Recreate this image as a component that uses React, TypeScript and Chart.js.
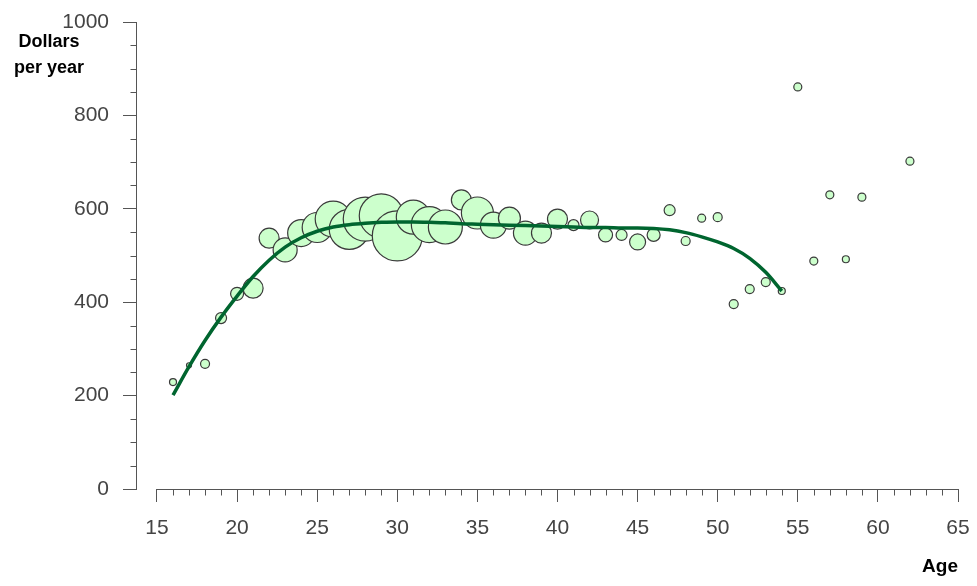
import React, { useEffect, useRef } from "react";
import { Chart, registerables } from "chart.js";

Chart.register(...registerables);

// ---- data ----
const ages = [16, 17, 18, 19, 20, 21, 22, 23, 24, 25, 26, 27, 28, 29, 30, 31, 32, 33, 34, 35, 36, 37, 38, 39, 40, 41, 42, 43, 44, 45, 46, 47, 48, 49, 50, 51, 52, 53, 54, 55, 56, 57, 58, 59, 62];
const dollars = [229, 265, 268, 366, 418, 430, 537, 512, 548, 560, 578, 556, 578, 585, 542, 582, 566, 561, 619, 591, 565, 580, 548, 548, 578, 565, 576, 544, 544, 529, 544, 597, 531, 580, 582, 396, 428, 443, 424, 861, 488, 630, 492, 625, 702];
const bubbleSizes = [3.5, 2.5, 4.5, 5.5, 6.5, 10, 10, 12, 13.5, 15, 18, 20, 22, 22, 25, 17, 18, 17, 10, 16, 13, 11, 12, 10, 10, 5.5, 9, 7, 5.5, 8, 6.5, 5.5, 4.5, 4, 4.5, 4.5, 4.5, 4.5, 3.5, 4, 4, 4, 3.5, 4, 4];

const fitAges = [16, 17, 18, 19, 20, 21, 22, 23, 24, 25, 26, 27, 28, 29, 30, 31, 32, 33, 34, 35, 36, 37, 38, 39, 40, 41, 42, 43, 44, 45, 46, 47, 48, 49, 50, 51, 52, 53, 54];
const fitDollars = [201, 262, 318, 368, 413, 455, 490, 518, 538, 552, 561, 566, 569, 571, 572, 572, 571, 570, 568, 567, 566, 565, 564, 563, 562, 561, 560, 560, 559, 559, 558, 555, 549, 540, 529, 515, 494, 464, 424];

const xTickValues = [15, 20, 25, 30, 35, 40, 45, 50, 55, 60, 65];
const yTickValues = [0, 200, 400, 600, 800, 1000];

const AXIS_COLOR = "#555555";
const TEXT_COLOR = "#444444";

const minorTicks = {
  id: "minorTicks",
  afterDraw(chart: any) {
    const { ctx, chartArea, scales } = chart;
    const xs = scales.x;
    const ys = scales.y;
    ctx.save();
    ctx.strokeStyle = AXIS_COLOR;
    ctx.lineWidth = 1;
    ctx.beginPath();
    const yb = Math.round(chartArea.bottom) + 0.5;
    const x0 = xTickValues[0];
    const x1 = xTickValues[xTickValues.length - 1];
    ctx.moveTo(Math.round(xs.getPixelForValue(x0)), yb);
    ctx.lineTo(Math.round(xs.getPixelForValue(x1)) + 1, yb);
    for (let v = x0 + 1; v < x1; v++) {
      if (v % 5 === 0) continue;
      const px = Math.round(xs.getPixelForValue(v)) + 0.5;
      ctx.moveTo(px, yb);
      ctx.lineTo(px, yb + 6);
    }
    const xl = Math.round(chartArea.left) + 0.5;
    for (let v = 50; v < 1000; v += 50) {
      if (v % 200 === 0) continue;
      const py = Math.round(ys.getPixelForValue(v)) + 0.5;
      ctx.moveTo(xl - 6, py);
      ctx.lineTo(xl, py);
    }
    ctx.stroke();
    ctx.restore();
  },
};

const zeroPad = (scale: any) => {
  scale.paddingLeft = 0;
  scale.paddingRight = 0;
  scale.paddingTop = 0;
  scale.paddingBottom = 0;
};

export default function App() {
  const ref = useRef<HTMLCanvasElement | null>(null);

  useEffect(() => {
    if (!ref.current) return;
    const chart = new Chart(ref.current, {
      type: "bubble",
      data: {
        datasets: [
          {
            type: "line",
            data: fitAges.map((a, i) => ({ x: a, y: fitDollars[i] })),
            borderColor: "#00652f",
            borderWidth: 3.5,
            pointRadius: 0,
            fill: false,
            cubicInterpolationMode: "monotone",
            order: 0,
          } as any,
          {
            type: "bubble",
            data: ages.map((a, i) => ({ x: a, y: dollars[i], r: bubbleSizes[i] })),
            backgroundColor: "#ccffcc",
            borderColor: "#3a3a3a",
            borderWidth: 1.2,
            order: 1,
          } as any,
        ],
      },
      options: {
        animation: false,
        responsive: false,
        maintainAspectRatio: false,
        devicePixelRatio: 1,
        layout: { autoPadding: false, padding: { left: 0, top: 22, right: 19, bottom: 0 } },
        plugins: { legend: { display: false }, tooltip: { enabled: false } },
        scales: {
          x: {
            type: "linear",
            min: 13.69,
            max: 65,
            afterBuildTicks: (scale: any) => {
              scale.ticks = xTickValues.map((value) => ({ value }));
            },
            afterFit: (scale: any) => {
              scale.height = 97;
              zeroPad(scale);
            },
            border: { display: false },
            grid: { drawOnChartArea: false, drawTicks: true, tickLength: 13, tickColor: AXIS_COLOR },
            ticks: {
              autoSkip: false,
              maxRotation: 0,
              padding: 14,
              color: TEXT_COLOR,
              font: { family: "'Liberation Sans', Arial, sans-serif", size: 21 },
              callback: (v: any) => String(v),
            },
            title: {
              display: true,
              text: "Age",
              align: "end",
              color: "#000000",
              font: { family: "'Liberation Sans', Arial, sans-serif", size: 19, weight: "bold" },
              padding: { top: 0, bottom: 8 },
            },
          },
          y: {
            type: "linear",
            min: 0,
            max: 1000,
            afterBuildTicks: (scale: any) => {
              scale.ticks = yTickValues.map((value) => ({ value }));
            },
            afterFit: (scale: any) => {
              scale.width = 136;
              zeroPad(scale);
            },
            border: { display: true, color: AXIS_COLOR, width: 1 },
            grid: { drawOnChartArea: false, drawTicks: true, tickLength: 13, tickColor: AXIS_COLOR },
            ticks: {
              padding: 14,
              color: TEXT_COLOR,
              font: { family: "'Liberation Sans', Arial, sans-serif", size: 21 },
              callback: (v: any) => String(v),
            },
          },
        },
      },
      plugins: [minorTicks],
    } as any);
    return () => chart.destroy();
  }, []);

  return (
    <div style={{ position: "fixed", left: 0, top: 0, width: 977, height: 586, background: "#ffffff" }}>
      <canvas ref={ref} width={977} height={586} style={{ display: "block" }} />
      <div
        style={{
          position: "absolute",
          left: 0,
          top: 28,
          width: 98,
          textAlign: "center",
          fontFamily: "'Liberation Sans', Arial, sans-serif",
          fontWeight: "bold",
          fontSize: 18,
          lineHeight: "26px",
          color: "#000000",
        }}
      >
        Dollars
        <br />
        per year
      </div>
    </div>
  );
}
